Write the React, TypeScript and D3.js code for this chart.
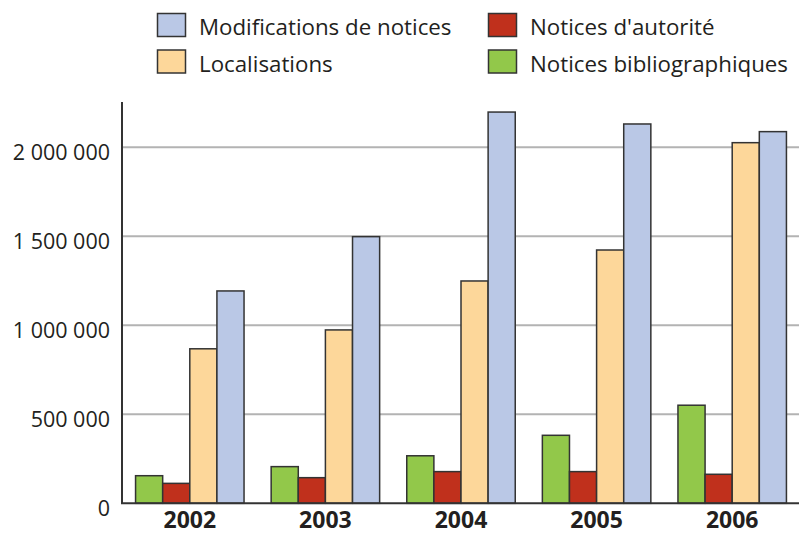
import React from "react";
import * as d3 from "d3";

const years = ["2002", "2003", "2004", "2005", "2006"];
const seriesNames = ["Notices bibliographiques", "Notices d'autorité", "Localisations", "Modifications de notices"];
const bibliographiques = [155000, 206000, 267000, 382000, 551000];
const autorite = [112000, 144000, 178000, 178000, 163000];
const localisations = [868000, 974000, 1249000, 1423000, 2026000];
const modifications = [1193000, 1498000, 2198000, 2131000, 2088000];
const colors = ["#92C84A", "#C0301C", "#FDD79A", "#BAC8E6"];
const yTicks = [0, 500000, 1000000, 1500000, 2000000];

const W = 799;
const H = 535;
const FONT = "'Open Sans', 'Noto Sans', sans-serif";

export default function App() {
  const series = [bibliographiques, autorite, localisations, modifications];
  const x0 = d3.scaleBand<string>().domain(years).range([122, 800]).paddingInner(0.2).paddingOuter(0.1);
  const x1 = d3.scaleBand<number>().domain([0, 1, 2, 3]).range([0, x0.bandwidth()]);
  const y = d3.scaleLinear().domain([0, 2250000]).range([503.3, 102.8]);
  const fmt = (v: number) => d3.format(",")(v).replace(/,/g, " ");

  const legend = [
    { name: seriesNames[3], color: colors[3], x: 157.5, y: 13.5 },
    { name: seriesNames[2], color: colors[2], x: 157.5, y: 50 },
    { name: seriesNames[1], color: colors[1], x: 488.5, y: 13.5 },
    { name: seriesNames[0], color: colors[0], x: 488.5, y: 50 },
  ];

  return (
    <svg width={W} height={H} style={{ position: "absolute", left: 0, top: 0, background: "#fff" }}>
      {yTicks.slice(1).map((t) => (
        <line key={t} x1={122} x2={W} y1={y(t)} y2={y(t)} stroke="#b3b3b3" strokeWidth={2} />
      ))}
      {years.map((yr, i) => (
        <g key={yr} transform={`translate(${x0(yr)},0)`}>
          {series.map((s, j) => (
            <rect
              key={j}
              x={x1(j)}
              y={y(s[i])}
              width={x1.bandwidth()}
              height={y(0) - y(s[i])}
              fill={colors[j]}
              stroke="#333"
              strokeWidth={1.5}
            />
          ))}
        </g>
      ))}
      <line x1={122} x2={122} y1={102} y2={y(0)} stroke="#333" strokeWidth={2} />
      <line x1={121} x2={W} y1={y(0)} y2={y(0)} stroke="#333" strokeWidth={2} />
      {yTicks.map((t) => (
        <text key={t} x={110} y={y(t) + 12.5} textAnchor="end" fontFamily={FONT} fontSize={21.5} fill="#231f20">
          {fmt(t)}
        </text>
      ))}
      {years.map((yr) => (
        <text
          key={yr}
          x={(x0(yr) as number) + x0.bandwidth() / 2}
          y={528}
          textAnchor="middle"
          fontFamily={FONT}
          fontSize={23}
          fontWeight="bold"
          fill="#231f20"
        >
          {yr}
        </text>
      ))}
      {legend.map((l) => (
        <g key={l.name}>
          <rect x={l.x} y={l.y} width={28} height={23} fill={l.color} stroke="#333" strokeWidth={1.5} />
          <text x={l.x + 41.5} y={l.y + 21.5} fontFamily={FONT} fontSize={22.3} fill="#231f20">
            {l.name}
          </text>
        </g>
      ))}
    </svg>
  );
}
